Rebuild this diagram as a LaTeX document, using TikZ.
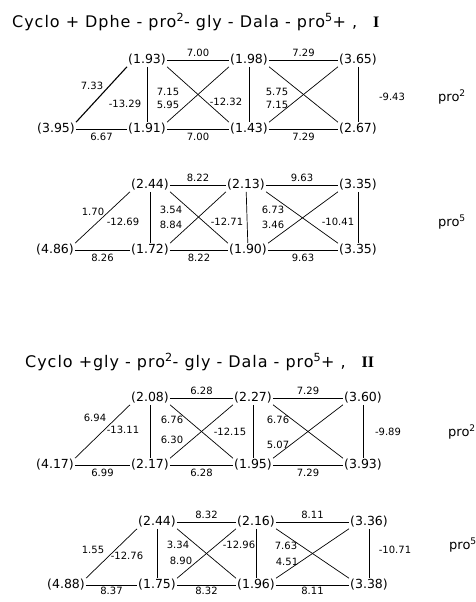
\documentclass[tikz,border=0pt]{standalone}
\usepackage{fontspec}
\setmainfont{DejaVu Sans}
\newfontfamily\romfont{Liberation Serif}
\begin{document}
\begin{tikzpicture}[x=1pt,y=-1pt,
  shf/.style={font=\fontsize{12.5}{15}\selectfont,inner sep=1pt},
  cpl/.style={font=\fontsize{10}{12}\selectfont,inner sep=1pt},
  ttl/.style={anchor=west,font=\fontsize{16}{18}\selectfont\addfontfeature{LetterSpace=6},inner sep=0pt},
  prl/.style={font=\fontsize{13}{16}\selectfont,inner sep=0pt},
  bond/.style={line width=0.7pt}]
\useasboundingbox (0,0) rectangle (476,602);
% compound I
\node[ttl] (t1) at (12,22) {Cyclo + Dphe - pro\textsuperscript{2}- gly - Dala - pro\textsuperscript{5}+ ,\quad{\romfont\bfseries I}};
% pro2 of I
\node[shf] (a1) at (147,60) {(1.93)};
\node[shf] (a2) at (249,60) {(1.98)};
\node[shf] (a3) at (358,60) {(3.65)};
\node[shf] (b0) at (56,129) {(3.95)};
\node[shf] (b1) at (147,129) {(1.91)};
\node[shf] (b2) at (249,129) {(1.43)};
\node[shf] (b3) at (358,129) {(2.67)};
\draw[bond,line width=1.1pt] (b0.north east) -- (a1.south west);
\draw[bond] (b0) -- node[cpl,below=3pt] (ab0) {6.67} (b1);
\draw[bond] (a1) -- node[cpl,above=2pt] (ab1) {7.00} (a2);
\draw[bond] (b1) -- node[cpl,below=3pt] (ab2) {7.00} (b2);
\draw[bond] (a2) -- node[cpl,above=2pt] (ab3) {7.29} (a3);
\draw[bond] (b2) -- node[cpl,below=3pt] (ab4) {7.29} (b3);
\draw[bond] (a1) -- (b1);
\draw[bond] (a2) -- (b2);
\draw[bond] (a3) -- (b3);
\draw[bond] (a1.south east) -- (b2.north west);
\draw[bond] (b1.north east) -- (a2.south west);
\draw[bond] (a2.south east) -- (b3.north west);
\draw[bond] (b2.north east) -- (a3.south west);
\node[cpl] (ab5) at (92,86) {7.33};
\node[cpl] (ab6) at (125,104) {-13.29};
\node[cpl] (ab7) at (168,92) {7.15};
\node[cpl] (ab8) at (168,105) {5.95};
\node[cpl] (ab9) at (226,102) {-12.32};
\node[cpl] (ab10) at (277,92) {5.75};
\node[cpl] (ab11) at (277,105) {7.15};
\node[cpl] (ab12) at (392,97) {-9.43};
\node[prl] (pa) at (452,97) {pro\textsuperscript{2}};
% pro5 of I
\node[shf] (c1) at (150,185) {(2.44)};
\node[shf] (c2) at (246,185) {(2.13)};
\node[shf] (c3) at (358,185) {(3.35)};
\node[shf] (d0) at (55,250) {(4.86)};
\node[shf] (d1) at (150,250) {(1.72)};
\node[shf] (d2) at (248,250) {(1.90)};
\node[shf] (d3) at (358,250) {(3.35)};
\draw[bond] (d0.north east) -- (c1.south west);
\draw[bond] (d0) -- node[cpl,below=3pt] (cd0) {8.26} (d1);
\draw[bond] (c1) -- node[cpl,above=2pt] (cd1) {8.22} (c2);
\draw[bond] (d1) -- node[cpl,below=3pt] (cd2) {8.22} (d2);
\draw[bond] (c2) -- node[cpl,above=2pt] (cd3) {9.63} (c3);
\draw[bond] (d2) -- node[cpl,below=3pt] (cd4) {9.63} (d3);
\draw[bond] (c1) -- (d1);
\draw[bond] (c2) -- (d2);
\draw[bond] (c3) -- (d3);
\draw[bond] (c1.south east) -- (d2.north west);
\draw[bond] (d1.north east) -- (c2.south west);
\draw[bond] (c2.south east) -- (d3.north west);
\draw[bond] (d2.north east) -- (c3.south west);
\node[cpl] (cd5) at (93,212) {1.70};
\node[cpl] (cd6) at (123,222) {-12.69};
\node[cpl] (cd7) at (171,210) {3.54};
\node[cpl] (cd8) at (171,225) {8.84};
\node[cpl] (cd9) at (227,222) {-12.71};
\node[cpl] (cd10) at (273,210) {6.73};
\node[cpl] (cd11) at (273,225) {3.46};
\node[cpl] (cd12) at (338,222) {-10.41};
\node[prl] (pc) at (452,222) {pro\textsuperscript{5}};
% compound II
\node[ttl] (t2) at (25,362) {Cyclo +gly - pro\textsuperscript{2}- gly - Dala - pro\textsuperscript{5}+ ,\quad{\romfont\bfseries II}};
% pro2 of II
\node[shf] (e1) at (150,398) {(2.08)};
\node[shf] (e2) at (253,398) {(2.27)};
\node[shf] (e3) at (363,398) {(3.60)};
\node[shf] (f0) at (55,465) {(4.17)};
\node[shf] (f1) at (150,465) {(2.17)};
\node[shf] (f2) at (253,465) {(1.95)};
\node[shf] (f3) at (363,465) {(3.93)};
\draw[bond] (f0.north east) -- (e1.south west);
\draw[bond] (f0) -- node[cpl,below=3pt] (ef0) {6.99} (f1);
\draw[bond] (e1) -- node[cpl,above=2pt] (ef1) {6.28} (e2);
\draw[bond] (f1) -- node[cpl,below=3pt] (ef2) {6.28} (f2);
\draw[bond] (e2) -- node[cpl,above=2pt] (ef3) {7.29} (e3);
\draw[bond] (f2) -- node[cpl,below=3pt] (ef4) {7.29} (f3);
\draw[bond] (e1) -- (f1);
\draw[bond] (e2) -- (f2);
\draw[bond] (e3) -- (f3);
\draw[bond] (e1.south east) -- (f2.north west);
\draw[bond] (f1.north east) -- (e2.south west);
\draw[bond] (e2.south east) -- (f3.north west);
\draw[bond] (f2.north east) -- (e3.south west);
\node[cpl] (ef5) at (95,418) {6.94};
\node[cpl] (ef6) at (123,430) {-13.11};
\node[cpl] (ef7) at (172,420) {6.76};
\node[cpl] (ef8) at (172,440) {6.30};
\node[cpl] (ef9) at (230,432) {-12.15};
\node[cpl] (ef10) at (278,420) {6.76};
\node[cpl] (ef11) at (278,445) {5.07};
\node[cpl] (ef12) at (388,432) {-9.89};
\node[prl] (pe) at (462,432) {pro\textsuperscript{2}};
% pro5 of II
\node[shf] (g1) at (157,522) {(2.44)};
\node[shf] (g2) at (256,522) {(2.16)};
\node[shf] (g3) at (369,522) {(3.36)};
\node[shf] (h0) at (66,585) {(4.88)};
\node[shf] (h1) at (157,585) {(1.75)};
\node[shf] (h2) at (256,585) {(1.96)};
\node[shf] (h3) at (369,585) {(3.38)};
\draw[bond] (h0.north east) -- (g1.south west);
\draw[bond] (h0) -- node[cpl,below=1pt] (gh0) {8.37} (h1);
\draw[bond] (g1) -- node[cpl,above=2pt] (gh1) {8.32} (g2);
\draw[bond] (h1) -- node[cpl,below=1pt] (gh2) {8.32} (h2);
\draw[bond] (g2) -- node[cpl,above=2pt] (gh3) {8.11} (g3);
\draw[bond] (h2) -- node[cpl,below=1pt] (gh4) {8.11} (h3);
\draw[bond] (g1) -- (h1);
\draw[bond] (g2) -- (h2);
\draw[bond] (g3) -- (h3);
\draw[bond] (g1.south east) -- (h2.north west);
\draw[bond] (h1.north east) -- (g2.south west);
\draw[bond] (g2.south east) -- (h3.north west);
\draw[bond] (h2.north east) -- (g3.south west);
\node[cpl] (gh5) at (93,550) {1.55};
\node[cpl] (gh6) at (127,556) {-12.76};
\node[cpl] (gh7) at (178,545) {3.34};
\node[cpl] (gh8) at (181,561) {8.90};
\node[cpl] (gh9) at (239,545) {-12.96};
\node[cpl] (gh10) at (286,546) {7.63};
\node[cpl] (gh11) at (287,562) {4.51};
\node[cpl] (gh12) at (395,550) {-10.71};
\node[prl] (pg) at (463,545) {pro\textsuperscript{5}};
\end{tikzpicture}
\end{document}
